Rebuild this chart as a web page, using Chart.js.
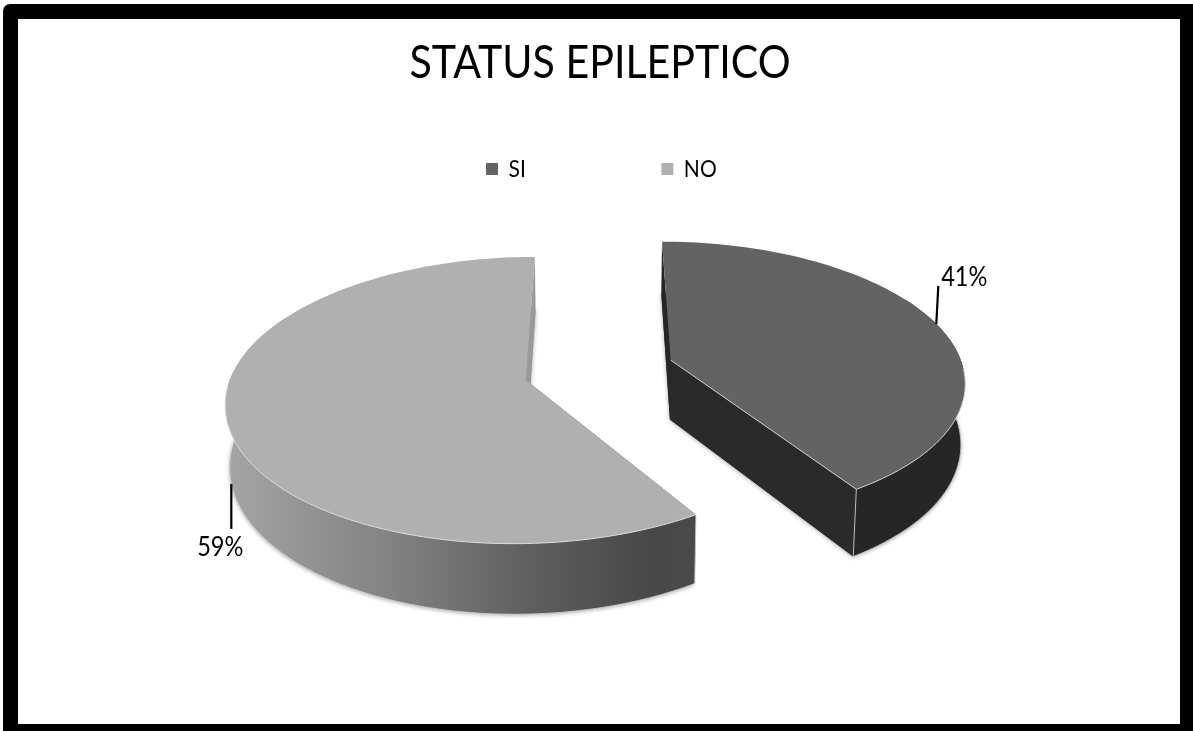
<!DOCTYPE html>
<html lang="es">
<head>
<meta charset="utf-8">
<title>STATUS EPILEPTICO</title>
<script src="https://cdn.jsdelivr.net/npm/chart.js@4/dist/chart.umd.min.js"></script>
<style>
  html, body { margin: 0; padding: 0; background: #fff; width: 1193px; height: 731px; overflow: hidden; }
  #frame { position: absolute; left: 3px; top: 4px; right: 0; bottom: 0; box-sizing: border-box;
           border: solid #000; border-width: 15px 13px 7px 15px; border-radius: 7px 0 0 0; }
  #chart { position: absolute; left: 0; top: 0; }
</style>
</head>
<body>
<div id="frame"></div>
<canvas id="chart" width="1193" height="731"></canvas>
<script>
// Series
const categories = ['SI', 'NO'];
const seriesValues = [41, 59];
const sliceColors = ['#636363', '#b0b0b0'];
const chartTitle = 'STATUS EPILEPTICO';

const FONT = 'Lato, "Liberation Sans", sans-serif';
const textCondense = 0.875;

// Tilted-disc view of the pie plane
const view = {
  cx: 599, cy: 370,     // screen position of the unexploded centre
  squash: 0.47,         // vertical foreshortening
  persp: 0.14,          // perspective strength along the depth axis
  depth: 60,            // wall height at the plane centre
  taper: 0.012          // inward lean of the walls
};

function project(u, v, R, down) {
  const w = 1 - view.persp * v / R;
  let sx = view.cx + u / w;
  let sy = view.cy + view.squash * v / w;
  if (down) {
    sx = view.cx + (sx - view.cx) * (1 - view.taper);
    sy += view.depth / w;
  }
  return [sx, sy];
}

function tracePath(ctx, pts, close) {
  ctx.beginPath();
  pts.forEach((p, i) => (i ? ctx.lineTo(p[0], p[1]) : ctx.moveTo(p[0], p[1])));
  if (close) ctx.closePath();
}

// Collects the outline of one arc element in screen coordinates
function sliceGeometry(arc) {
  const R = arc.outerRadius;
  const mid = (arc.startAngle + arc.endAngle) / 2;
  const off = arc.options.offset;
  const ox = Math.cos(mid) * off, oy = Math.sin(mid) * off;
  const at = (a, r, down) => project(ox + Math.cos(a) * r, oy + Math.sin(a) * r, R, down);
  const top = [], bottom = [], angles = [];
  const steps = 96;
  for (let i = 0; i <= steps; i++) {
    const a = arc.startAngle + (arc.endAngle - arc.startAngle) * i / steps;
    angles.push(a);
    top.push(at(a, R, false));
    bottom.push(at(a, R, true));
  }
  return { top, bottom, angles, apex: at(0, 0, false), apexLow: at(0, 0, true), at, R, mid };
}

const wallPaint = [
  ctx => '#262626',
  ctx => {
    const g = ctx.createLinearGradient(228, 0, 696, 0);
    g.addColorStop(0, '#a4a4a4');
    g.addColorStop(0.35, '#828282');
    g.addColorStop(0.65, '#5e5e5e');
    g.addColorStop(0.9, '#484848');
    g.addColorStop(1, '#4a4a4a');
    return g;
  }
];
const startFacePaint = ['#262626', '#4a4a4a'];
const endFacePaint = ['#2a2a2a', '#999999'];

// Leader lines leave each slice at its mid angle
const leaderVec = [[2, -38], [0, 45]];
const labelGap = [[26, -9], [-11, 18]];
const legendStartX = 486;
const legendItemY = 157;
const titleCentreX = 600;

// Runs a layout box's draw with its text narrowed about a fixed x
function condenseBox(chart, box, anchorX, originX) {
  if (box._condensed) return;
  const draw = box.draw;
  box.draw = function () {
    const ctx = chart.ctx;
    ctx.save();
    ctx.translate(anchorX, 0);
    ctx.scale(textCondense, 1);
    ctx.translate(-originX(), 0);
    draw.call(box);
    ctx.restore();
  };
  box._condensed = true;
}

const pie3d = {
  id: 'pie3d',
  afterLayout(chart) {
    // Legend row sits between the title and the pie
    const lg = chart.legend;
    const pad = lg.options.labels.padding;
    const rowStart = (lg.left + pad + lg.right - lg.lineWidths[0]) / 2;
    const dx = legendStartX - rowStart;
    lg.left += dx; lg.right += dx;
    lg.top = legendItemY - pad;
    condenseBox(chart, lg, legendStartX, () => legendStartX);

    const tb = chart.titleBlock;
    condenseBox(chart, tb, titleCentreX, () => (tb.left + tb.right) / 2);
  },
  beforeDatasetDraw(chart, args) {
    const ctx = chart.ctx;
    const arcs = chart.getDatasetMeta(args.index).data;
    const total = seriesValues.reduce((a, b) => a + b, 0);

    arcs.forEach((arc, i) => {
      const g = sliceGeometry(arc);
      const n = g.top.length - 1;
      const keep = limit => (p, k) => Math.sin(g.angles[k]) > limit;
      ctx.save();

      // Soft halo under the walls
      ctx.save();
      ctx.shadowColor = 'rgba(0,0,0,0.35)';
      ctx.shadowBlur = 4;
      ctx.shadowOffsetY = 1;
      ctx.fillStyle = endFacePaint[i];
      tracePath(ctx, [g.apexLow].concat(g.bottom), true);
      ctx.fill();
      ctx.restore();

      // Cut faces
      ctx.fillStyle = startFacePaint[i];
      tracePath(ctx, [g.apex, g.top[0], g.bottom[0], g.apexLow], true);
      ctx.fill();
      ctx.fillStyle = endFacePaint[i];
      tracePath(ctx, [g.apex, g.top[n], g.bottom[n], g.apexLow], true);
      ctx.fill();

      // Outer wall, camera-facing part only
      ctx.fillStyle = wallPaint[i](ctx);
      tracePath(ctx, g.top.filter(keep(-0.5)).concat(g.bottom.filter(keep(-0.5)).reverse()), true);
      ctx.fill();

      // Light seam along the foot of the wall
      ctx.strokeStyle = 'rgba(215,215,215,0.8)';
      ctx.lineWidth = 1;
      tracePath(ctx, g.bottom.filter(keep(-0.1)), false);
      ctx.stroke();

      // Upright edge at the front corner
      const corner = i === 0 ? n : 0;
      ctx.strokeStyle = 'rgba(205,205,205,0.9)';
      tracePath(ctx, [g.top[corner], g.bottom[corner]], false);
      ctx.stroke();

      // Top face
      ctx.fillStyle = arc.options.backgroundColor;
      tracePath(ctx, [g.apex].concat(g.top), true);
      ctx.fill();

      // Bright rim on the camera-facing edges of the top
      ctx.strokeStyle = 'rgba(225,225,225,0.9)';
      const rim = g.top.filter(keep(0.05));
      tracePath(ctx, i === 0 ? [g.apex, g.top[n]].concat(rim.slice().reverse()) : rim, false);
      ctx.stroke();
    });

    // Leader lines and percentage labels go over both slices
    arcs.forEach((arc, i) => {
      const g = sliceGeometry(arc);
      const pt = i === 0 ? g.at(g.mid, g.R, false) : g.at(g.mid, g.R, true);
      const end = [pt[0] + leaderVec[i][0], pt[1] + leaderVec[i][1]];
      ctx.save();
      ctx.strokeStyle = '#000';
      ctx.lineWidth = 2.2;
      tracePath(ctx, [pt, end], false);
      ctx.stroke();
      ctx.translate(end[0] + labelGap[i][0], end[1] + labelGap[i][1]);
      ctx.scale(textCondense, 1);
      ctx.fillStyle = '#000';
      ctx.font = '27px ' + FONT;
      ctx.textAlign = 'center';
      ctx.textBaseline = 'middle';
      ctx.fillText(Math.round(seriesValues[i] / total * 100) + '%', 0, 0);
      ctx.restore();
    });
    return false;
  }
};

new Chart(document.getElementById('chart'), {
  type: 'pie',
  data: {
    labels: categories,
    datasets: [{
      data: seriesValues,
      backgroundColor: sliceColors,
      borderWidth: 0,
      offset: 75.5
    }]
  },
  options: {
    responsive: false,
    animation: false,
    radius: 293,
    rotation: 0,
    layout: { padding: 0 },
    plugins: {
      tooltip: { enabled: false },
      title: {
        display: true,
        text: chartTitle,
        color: '#000',
        font: { family: FONT, size: 47, weight: 'normal' },
        padding: { top: 35, bottom: 0 }
      },
      legend: {
        display: true,
        position: 'top',
        labels: {
          color: '#000',
          font: { family: FONT, size: 24 },
          boxWidth: 13.7,
          boxHeight: 12,
          padding: 155
        }
      }
    }
  },
  plugins: [pie3d]
});
</script>
</body>
</html>
